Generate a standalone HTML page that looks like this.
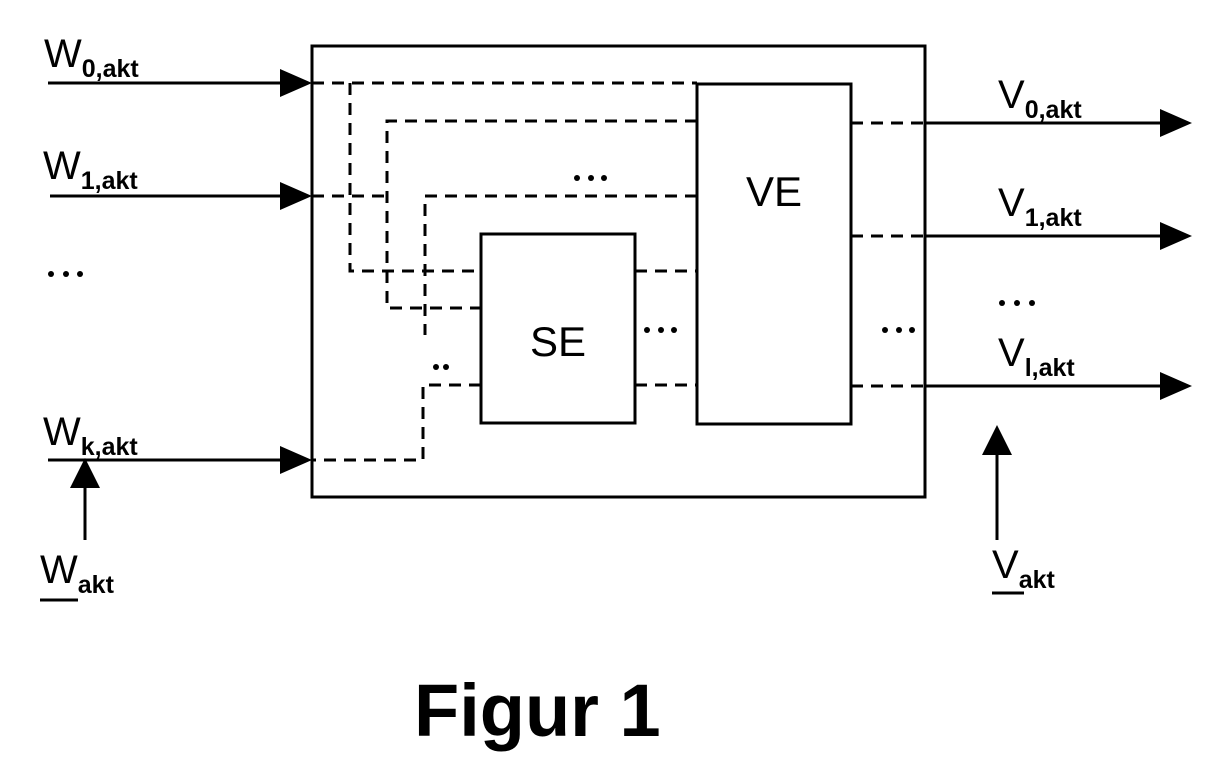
<!DOCTYPE html>
<html><head><meta charset="utf-8"><style>
html,body{margin:0;padding:0;background:#fff;width:1232px;height:772px;overflow:hidden}
svg text{font-family:"Liberation Sans",Arial,sans-serif;fill:#000}
</style></head><body>
<svg width="1232" height="772" viewBox="0 0 1232 772" xmlns="http://www.w3.org/2000/svg">
<g stroke="#000" stroke-width="3" fill="none">
<rect x="312" y="46" width="613" height="451"/>
<rect x="697" y="84" width="154" height="340"/>
<rect x="481" y="234" width="154" height="189"/>
<line x1="48" y1="83" x2="290" y2="83"/>
<line x1="50" y1="196" x2="290" y2="196"/>
<line x1="48" y1="460" x2="290" y2="460"/>
<line x1="85" y1="540" x2="85" y2="480"/>
<line x1="925" y1="123" x2="1170" y2="123"/>
<line x1="925" y1="236" x2="1170" y2="236"/>
<line x1="925" y1="386" x2="1170" y2="386"/>
<line x1="997" y1="540" x2="997" y2="450"/>
</g>
<g fill="#000">
<polygon points="280,69 312,83 280,97"/>
<polygon points="280,182 312,196 280,210"/>
<polygon points="280,446 312,460 280,474"/>
<polygon points="70,488 85,458 100,488"/>
<polygon points="1160,109 1192,123 1160,137"/>
<polygon points="1160,222 1192,236 1160,250"/>
<polygon points="1160,372 1192,386 1160,400"/>
<polygon points="982,455 997,425 1012,455"/>
</g>
<g stroke="#000" stroke-width="3" fill="none" stroke-dasharray="12,8">
<polyline points="312,83 697,83"/>
<polyline points="350,83 350,271 481,271"/>
<polyline points="697,121 387,121 387,308 481,308"/>
<polyline points="312,196 387,196"/>
<polyline points="697,196 425,196 425,335"/>
<polyline points="481,385 423,385 423,460 312,460"/>
<polyline points="635,271 697,271"/>
<polyline points="635,385 697,385"/>
<polyline points="851,123 925,123"/>
<polyline points="851,236 925,236"/>
<polyline points="851,386 925,386"/>
</g>
<g fill="#000">
<circle cx="577" cy="178" r="3"/><circle cx="591" cy="178" r="3"/><circle cx="604" cy="178" r="3"/>
<circle cx="647" cy="330" r="3"/><circle cx="661" cy="330" r="3"/><circle cx="674" cy="330" r="3"/>
<circle cx="885" cy="330" r="3"/><circle cx="899" cy="330" r="3"/><circle cx="912" cy="330" r="3"/>
<circle cx="436" cy="367" r="3"/><circle cx="446" cy="367" r="3"/>
<circle cx="51" cy="274" r="3"/><circle cx="66" cy="274" r="3"/><circle cx="80" cy="274" r="3"/>
<circle cx="1002" cy="303" r="3"/><circle cx="1017" cy="303" r="3"/><circle cx="1032" cy="303" r="3"/>
</g>
<text x="774" y="206" font-size="42" text-anchor="middle">VE</text>
<text x="558" y="356" font-size="42" text-anchor="middle">SE</text>
<g font-size="40">
<text x="44" y="67">W<tspan font-size="25" font-weight="bold" dy="10">0,akt</tspan></text>
<text x="43" y="179">W<tspan font-size="25" font-weight="bold" dy="10">1,akt</tspan></text>
<text x="43" y="445">W<tspan font-size="25" font-weight="bold" dy="10">k,akt</tspan></text>
<text x="40" y="583">W<tspan font-size="25" font-weight="bold" dy="10">akt</tspan></text>
<text x="998" y="108">V<tspan font-size="25" font-weight="bold" dy="10">0,akt</tspan></text>
<text x="998" y="216">V<tspan font-size="25" font-weight="bold" dy="10">1,akt</tspan></text>
<text x="998" y="366">V<tspan font-size="25" font-weight="bold" dy="10">l,akt</tspan></text>
<text x="992" y="578">V<tspan font-size="25" font-weight="bold" dy="10">akt</tspan></text>
</g>
<line x1="40" y1="600" x2="78" y2="600" stroke="#000" stroke-width="3"/>
<line x1="992" y1="593" x2="1024" y2="593" stroke="#000" stroke-width="3"/>
<text x="414" y="736" font-size="74" font-weight="bold">Figur 1</text>
</svg>
</body></html>
